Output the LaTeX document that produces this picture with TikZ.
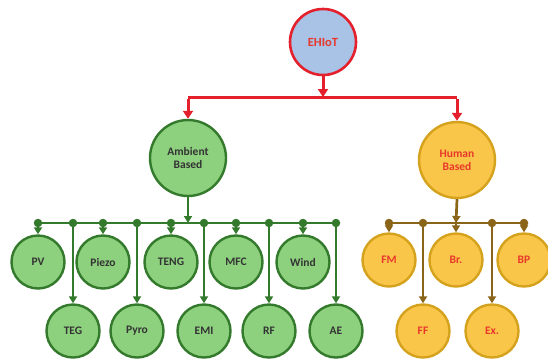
\documentclass[tikz,border=0pt]{standalone}
\usepackage{fontspec}
\setmainfont{Carlito}
\usetikzlibrary{arrows.meta}
\definecolor{redc}{HTML}{E3202B}
\definecolor{bluef}{HTML}{A9C3E6}
\definecolor{greenf}{HTML}{8DD07E}
\definecolor{greend}{HTML}{347A2C}
\definecolor{orangef}{HTML}{F9C64A}
\definecolor{oranged}{HTML}{D4A21C}
\definecolor{brownc}{HTML}{8A6418}
\definecolor{txtred}{HTML}{E8372B}
\begin{document}
\begin{tikzpicture}[x=1pt,y=-1pt,
  every node/.style={font=\bfseries\fontsize{11.5}{13}\selectfont, align=center},
  topc/.style={circle, draw=redc, line width=2.6pt, fill=bluef, minimum size=66pt, text=txtred, inner sep=0pt, font=\bfseries\fontsize{12.5}{14}\selectfont},
  gbig/.style={circle, draw=greend, line width=2.4pt, fill=greenf, minimum size=76pt, text=black!80, inner sep=0pt},
  obig/.style={circle, draw=oranged, line width=2.4pt, fill=orangef, minimum size=76pt, text=txtred, inner sep=0pt},
  gsmall/.style={circle, draw=greend, line width=2.4pt, fill=greenf, minimum size=53pt, text=black!80, inner sep=0pt},
  osmall/.style={circle, draw=oranged, line width=2.4pt, fill=orangef, minimum size=53pt, text=txtred, inner sep=0pt},
  rline/.style={draw=redc, line width=3pt},
  gline/.style={draw=greend, line width=2.7pt},
  oline/.style={draw=brownc, line width=2.7pt},
  rarr/.style={rline, -{Triangle[width=10pt,length=8pt]}},
  garr/.style={gline, -{Triangle[width=8pt,length=7pt]}},
  oarr/.style={oline, -{Triangle[width=8pt,length=7pt]}},
  gdot/.style={circle, fill=greend, minimum size=8.5pt, inner sep=0pt},
  odot/.style={circle, fill=brownc, minimum size=8.5pt, inner sep=0pt}
]
\useasboundingbox (0,0) rectangle (548,360);
% top
\node[topc] (top) at (323,42) {EHIoT};
\node[gbig] (amb) at (188,158) {Ambient\\Based};
\node[obig] (hum) at (457,160) {Human\\Based};
\coordinate (rb) at (323,97);
\coordinate (rl) at (188,97);
\coordinate (rr) at (457,97);
\draw[rarr] (top.south) -- (rb);
\draw[rline] (rl) -- (rr);
\draw[rarr] ([yshift=-1.5pt]rl) -- (amb.north);
\draw[rarr] ([yshift=-1.5pt]rr) -- (hum.north);
% green children
\node[gsmall] (pv) at (38,262) {PV};
\node[gsmall] (piezo) at (103,262) {Piezo};
\node[gsmall] (teng) at (171,262) {TENG};
\node[gsmall] (mfc) at (236,262) {MFC};
\node[gsmall] (wind) at (303,262) {Wind};
\node[gsmall] (teg) at (73,331) {TEG};
\node[gsmall] (pyro) at (137,331) {Pyro};
\node[gsmall] (emi) at (204,331) {EMI};
\node[gsmall] (rf) at (269,331) {RF};
\node[gsmall] (ae) at (336,331) {AE};
\coordinate (gb) at (188,223);
\draw[gline] (38,223) -- (336,223);
\draw[garr] (amb.south) -- (gb);
\foreach \n/\x in {pv/38,piezo/103,teng/171,mfc/236,wind/303}{
  \node[gdot] (d\n) at (\x,223) {};
  \draw[garr] (d\n.center) -- (\n.north);
}
\foreach \n/\x in {teg/73,pyro/137,emi/204,rf/269,ae/336}{
  \node[gdot] (d\n) at (\x,223) {};
  \draw[garr] (d\n.center) -- (\n.north);
}
% orange children
\node[osmall] (fm) at (389,260) {FM};
\node[osmall] (br) at (456,260) {Br.};
\node[osmall] (bp) at (524,260) {BP};
\node[osmall] (ff) at (423,331) {FF};
\node[osmall] (ex) at (492,331) {Ex.};
\coordinate (ob) at (456,223);
\draw[oline] (387,223) -- (524,223);
\draw[oarr] (hum.south) -- (ob);
\draw[oarr] (ob) -- (br.north);
\foreach \n/\x in {fm/389,bp/524,ff/423,ex/492}{
  \node[odot] (d\n) at (\x,223) {};
  \draw[oarr] (d\n.center) -- (\n.north);
}
\end{tikzpicture}
\end{document}
